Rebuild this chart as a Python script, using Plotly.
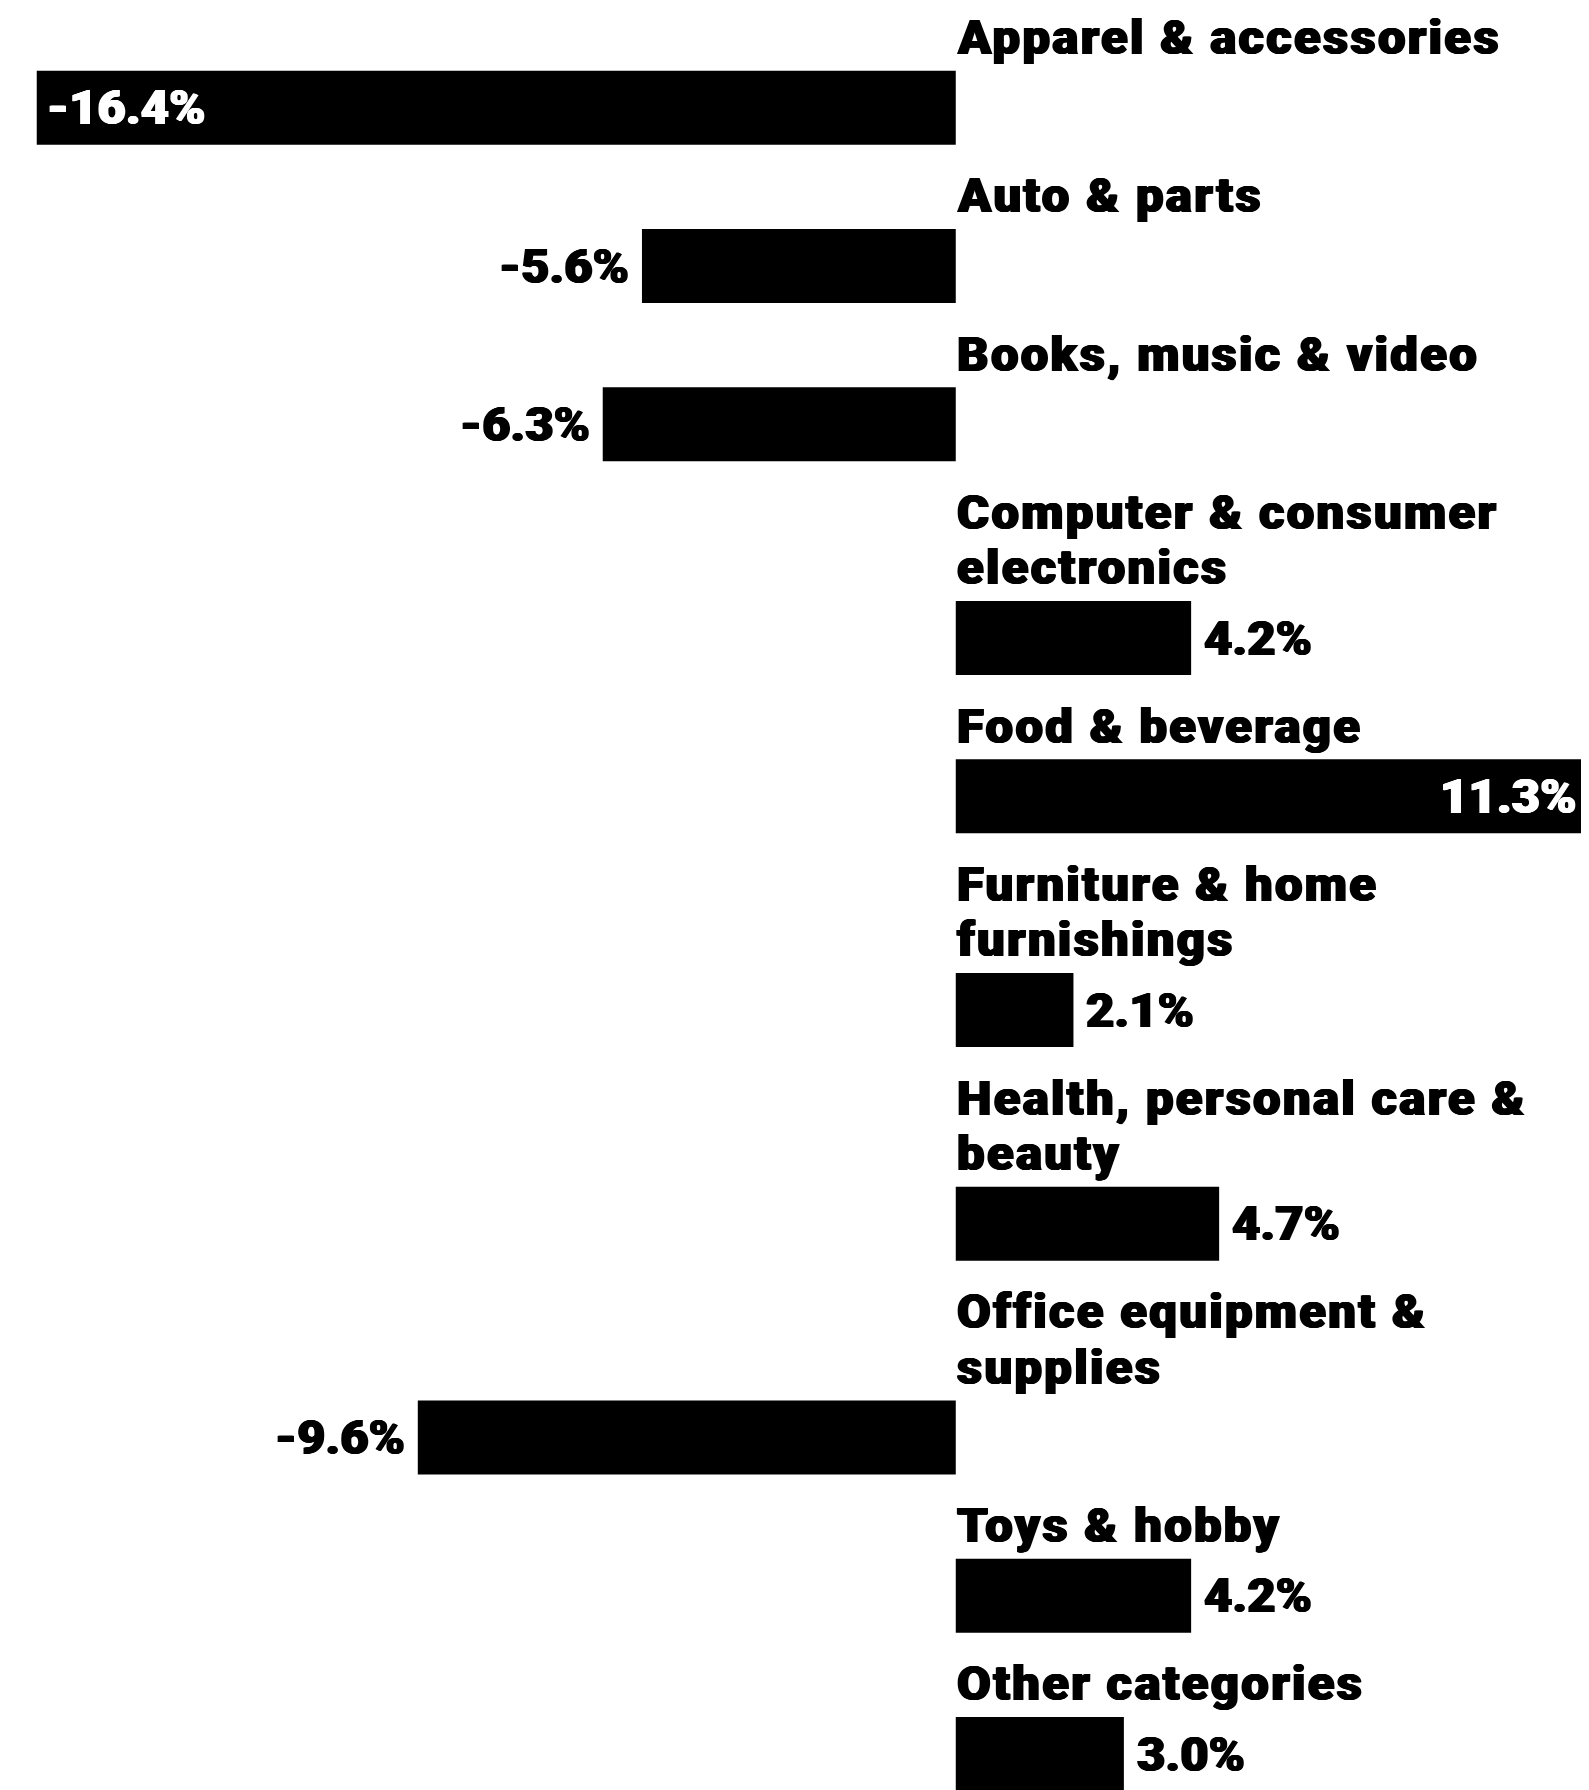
import plotly.graph_objects as go

# ---- data ----
categories = [
    "Apparel & accessories",
    "Auto & parts",
    "Books, music & video",
    "Computer & consumer<br>electronics",
    "Food & beverage",
    "Furniture & home<br>furnishings",
    "Health, personal care &<br>beauty",
    "Office equipment &<br>supplies",
    "Toys & hobby",
    "Other categories",
]
values = [-16.4, -5.6, -6.3, 4.2, 11.3, 2.1, 4.7, -9.6, 4.2, 3.0]
value_labels = ["-16.4%", "-5.6%", "-6.3%", "4.2%", "11.3%", "2.1%", "4.7%", "-9.6%", "4.2%", "3.0%"]

# ---- layout constants (screen pixels) ----
SCREEN_W, SCREEN_H = 1589, 1790
OFF = 8                      # page body margin
W, H = SCREEN_W - OFF, SCREEN_H - OFF
FS = 49
def font(color, t=0.9):
    return dict(family="Roboto, 'Open Sans', sans-serif", size=FS, color=color, weight=900,
                shadow=f"{t}px 0 0 {color}, -{t}px 0 0 {color}, 0 0.4px 0 {color}")
LINE = 55.4
ROW_GAP = 102.9
BAR_H = 74
TOP = 52.3
LABEL_GAP = 16.7     # baseline of last label line to bar top
DESC = 0.244 * FS + 1
PAD = 12
PAD_IN_NEG = 9
LETTER_SP = 2.3
ZERO_PX = 955.8
PX_PER_UNIT = 56.04
X_MIN = -(ZERO_PX - OFF) / PX_PER_UNIT
X_MAX = 11.3
INSIDE_MIN = 10

# row centres derived from the number of label lines
centers = []
pos = TOP - ROW_GAP
for cat in categories:
    n = len(cat.split("<br>"))
    pos += ROW_GAP + LINE * n
    centers.append(pos)

fig = go.Figure(
    go.Bar(
        x=values,
        y=centers,
        orientation="h",
        width=BAR_H,
        marker=dict(color="black", line=dict(width=0)),
        hoverinfo="skip",
        cliponaxis=False,
    )
)

annotations = []
for cat, c in zip(categories, centers):
    lines = cat.split("<br>")
    n = len(lines)
    for j, line in enumerate(lines):
        baseline = c - BAR_H / 2 - LABEL_GAP - (n - 1 - j) * LINE
        annotations.append(dict(
            x=0, y=baseline + DESC, xref="x", yref="y",
            text=f'<span style="letter-spacing:{LETTER_SP}px">{line}</span>',
            showarrow=False, xanchor="left", yanchor="bottom",
            font=font("black", 1.0), borderpad=0,
        ))

for v, lab, c in zip(values, value_labels, centers):
    inside = abs(v) >= INSIDE_MIN
    if inside:
        anchor = "left" if v < 0 else "right"
        shift = PAD_IN_NEG if v < 0 else -PAD
        color = "white"
    else:
        anchor = "right" if v < 0 else "left"
        shift = -PAD if v < 0 else PAD
        color = "black"
    annotations.append(dict(
        x=v, y=c, xref="x", yref="y", text=lab, showarrow=False,
        xanchor=anchor, yanchor="middle", xshift=shift, font=font(color), borderpad=0,
    ))

fig.update_layout(
    width=W, height=H, autosize=False,
    margin=dict(l=0, r=0, t=0, b=0),
    paper_bgcolor="white", plot_bgcolor="white",
    showlegend=False,
    xaxis=dict(range=[X_MIN, X_MAX], visible=False, fixedrange=True),
    yaxis=dict(range=[SCREEN_H, OFF], visible=False, fixedrange=True),
    annotations=annotations,
)

fig.write_html("out.html")
